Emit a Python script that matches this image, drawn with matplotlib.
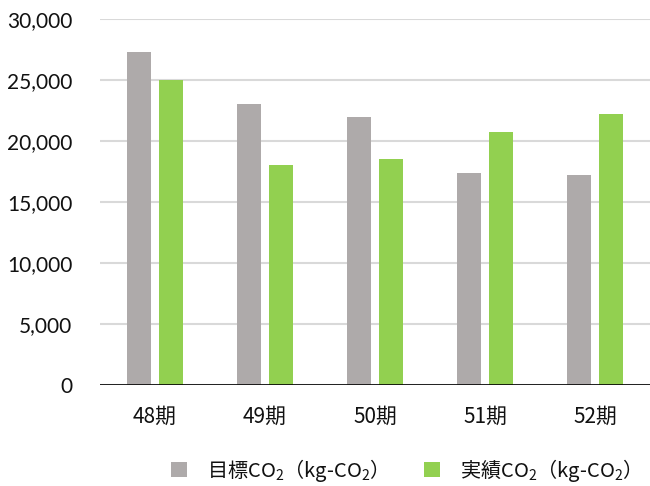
import numpy as np
import matplotlib
matplotlib.use("Agg")
import matplotlib.pyplot as plt
from matplotlib.ticker import FuncFormatter

plt.rcParams['font.family'] = ['Noto Sans CJK JP', 'DejaVu Sans']
plt.rcParams['mathtext.default'] = 'regular'

# --- Data ---
periods = ['48期', '49期', '50期', '51期', '52期']
target_co2 = [27300, 23000, 22000, 17400, 17200]
actual_co2 = [25000, 18000, 18500, 20700, 22200]
series_labels = ['目標CO$_2$（kg-CO$_2$）', '実績CO$_2$（kg-CO$_2$）']
y_ticks = [0, 5000, 10000, 15000, 20000, 25000, 30000]

GRAY = '#aeaaaa'
GREEN = '#92d050'
TEXT = '#111111'

fig = plt.figure(figsize=(6.5, 4.86), dpi=100)
ax = fig.add_axes([100 / 650, 1 - 385 / 486, 550 / 650, 366 / 486])

x = np.arange(len(periods))
bar_w = 0.22
offset = 0.145
ax.bar(x - offset, target_co2, width=bar_w, color=GRAY, label=series_labels[0], zorder=3)
ax.bar(x + offset, actual_co2, width=bar_w, color=GREEN, label=series_labels[1], zorder=3)

ax.set_xlim(-0.5, len(periods) - 0.5)
ax.set_ylim(0, 30000)
ax.set_yticks(y_ticks)
ax.yaxis.set_major_formatter(FuncFormatter(lambda v, _: f'{int(v):,}'))
ax.set_xticks(x)
ax.set_xticklabels(periods)

ax.grid(axis='y', color='#d9d9d9', linewidth=1.5, zorder=0)
ax.axhline(0, color='#000000', linewidth=1.2, zorder=4)
for s in ax.spines.values():
    s.set_visible(False)
ax.tick_params(axis='both', length=0, colors=TEXT)
ax.tick_params(axis='x', pad=15, labelsize=15)
ax.tick_params(axis='y', pad=20, labelsize=15)
for lbl in ax.get_yticklabels():
    lbl.set_family(['Lato', 'DejaVu Sans'])

leg = fig.legend(loc='center', bbox_to_anchor=(0.617, 1 - 470 / 486), ncol=2,
                 frameon=False, fontsize=14.5, handlelength=0.8, handleheight=0.8,
                 handletextpad=1.0, columnspacing=2.3)
for t in leg.get_texts():
    t.set_color(TEXT)

fig.savefig('out.png', dpi=100)
